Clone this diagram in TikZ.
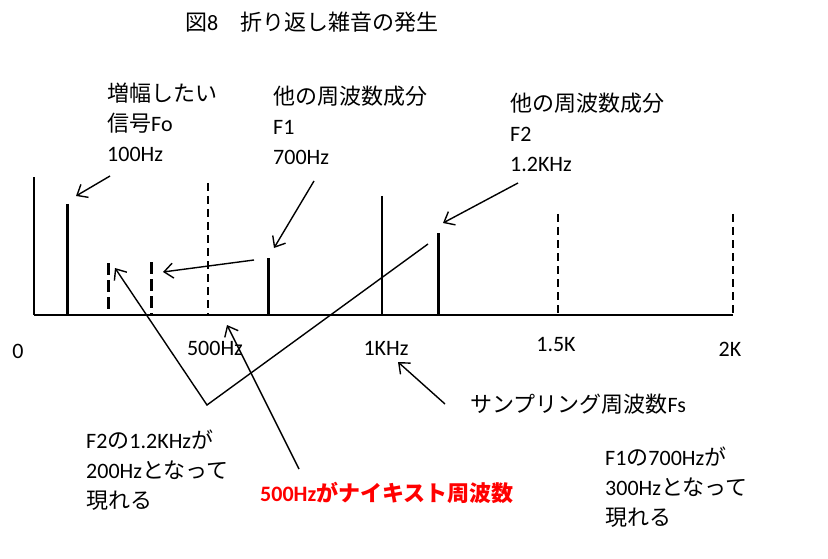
\documentclass[tikz,border=0pt]{standalone}
\usepackage{fontspec}
\setmainfont{Carlito}
\newfontfamily\jpfont{Noto Sans CJK JP}
\newcommand{\jp}[1]{{\jpfont #1}}
\usetikzlibrary{arrows.meta}

\begin{document}
\begin{tikzpicture}[
  x=1pt, y=-1pt,
  >={Straight Barb[length=9pt,width=15pt]},
  font=\fontsize{22}{30}\selectfont,
  lbl/.style={anchor=west, inner sep=0pt, align=left},
  ticklbl/.style={inner sep=0pt},
  axisline/.style={line width=2.2pt},
  thinline/.style={line width=1.6pt},
  spike/.style={line width=3pt},
  foldline/.style={dash pattern=on 12pt off 5pt},
  gridline/.style={dash pattern=on 8pt off 5pt},
  pointer/.style={->, line width=1.4pt}
]

\useasboundingbox (0,0) rectangle (828,559);

% TITLE
\node[lbl] (title) at (185,22) {\jp{図}8\jp{　折り返し雑音の発生}};

% AXIS
\coordinate (o) at (34,315);
\coordinate (xend) at (733,315);
\draw[thinline] (o) -- (34,177);
\draw[axisline] (o) -- (xend);

% SPECTRUM LINES
\draw[spike] (67,204) -- (67,315);
\draw[spike, foldline] (108,263) -- (108,315);
\draw[spike, foldline] (151,262) -- (151,315);
\draw[thinline, gridline] (208,183) -- (208,315);
\draw[spike] (268,258) -- (268,315);
\draw[thinline] (382,196) -- (382,315);
\draw[spike] (438,233) -- (438,315);
\draw[thinline, gridline] (558,214) -- (558,315);
\draw[thinline, gridline] (733,214) -- (733,315);

% AXIS LABELS
\node[ticklbl] (t0) at (18,351) {0};
\node[ticklbl] (t500) at (215,348) {500Hz};
\node[ticklbl] (t1k) at (386,348) {1KHz};
\node[ticklbl] (t15k) at (556,345) {1.5K};
\node[ticklbl] (t2k) at (730,349) {2K};

% LABELS
\node[lbl] (fo) at (107,122) {\jp{増幅したい}\\\jp{信号}Fo\\100Hz};
\node[lbl] (fone) at (273,125) {\jp{他の周波数成分}\\F1\\700Hz};
\node[lbl] (ftwo) at (510,132) {\jp{他の周波数成分}\\F2\\1.2KHz};
\node[lbl] (fs) at (470,404) {\jp{サンプリング周波数}Fs};
\node[lbl] (ftwonote) at (86,470) {F2\jp{の}1.2KHz\jp{が}\\200Hz\jp{となって}\\\jp{現れる}};
\node[lbl, text=red, font=\fontsize{22}{30}\selectfont\bfseries] (nyq) at (260,493) {500Hz\jp{がナイキスト周波数}};
\node[lbl] (fonenote) at (605,487) {F1\jp{の}700Hz\jp{が}\\300Hz\jp{となって}\\\jp{現れる}};

% ARROWS
\coordinate (foA) at (110,176);
\coordinate (foB) at (76,196);
\coordinate (foneA) at (314,181);
\coordinate (foneB) at (274,248);
\coordinate (ftwoA) at (518,183);
\coordinate (ftwoB) at (443,223);
\coordinate (alsA) at (254,260);
\coordinate (alsB) at (163,272);
\coordinate (bendA) at (428,244);
\coordinate (bendM) at (207,405);
\coordinate (bendB) at (115,268);
\coordinate (nyqA) at (299,469);
\coordinate (nyqB) at (227,325);
\coordinate (fsA) at (445,404);
\coordinate (fsB) at (398,362);

\draw[pointer] (foA) -- (foB);
\draw[pointer] (foneA) -- (foneB);
\draw[pointer] (ftwoA) -- (ftwoB);
\draw[pointer] (alsA) -- (alsB);
\draw[pointer] (bendA) -- (bendM) -- (bendB);
\draw[pointer] (nyqA) -- (nyqB);
\draw[pointer] (fsA) -- (fsB);

\end{tikzpicture}
\end{document}
